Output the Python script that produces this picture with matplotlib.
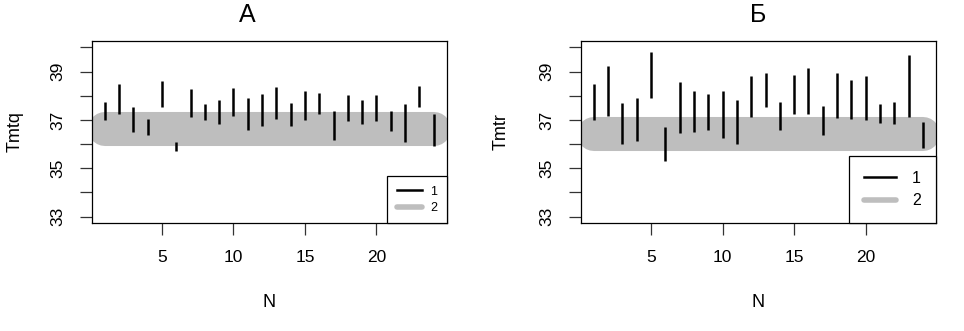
import numpy as np
import matplotlib
matplotlib.use('Agg')
import matplotlib.pyplot as plt
from matplotlib.lines import Line2D

plt.rcParams['font.family'] = ['Liberation Sans', 'DejaVu Sans']

# measurement number
N = list(range(1, 25))

# panel A : Tmtq ranges (low / high) for each N
tmtq_low = [37.00, 37.23, 36.52, 36.38, 37.52, 35.72, 37.14, 37.00, 36.83, 37.18, 36.60, 36.74,
            37.04, 36.74, 37.00, 37.23, 36.17, 36.94, 36.83, 36.94, 36.55, 36.08, 37.54, 35.94]
tmtq_high = [37.73, 38.47, 37.55, 37.03, 38.63, 36.10, 38.27, 37.65, 37.84, 38.34, 37.90, 38.09,
             38.38, 37.69, 38.18, 38.13, 37.36, 38.03, 37.81, 38.03, 37.36, 37.65, 38.40, 37.25]

# panel B : Tmtr ranges
tmtr_low = [37.00, 37.18, 36.01, 36.12, 37.91, 35.29, 36.45, 36.52, 36.59, 36.27, 36.01, 37.12,
            37.52, 36.60, 37.23, 37.23, 36.37, 37.10, 37.04, 37.00, 36.86, 36.85, 37.12, 35.84]
tmtr_high = [38.47, 39.25, 37.69, 37.90, 39.80, 36.71, 38.57, 38.20, 38.09, 38.20, 37.81, 38.80,
             38.93, 37.74, 38.85, 39.15, 37.59, 38.93, 38.67, 38.80, 37.65, 37.73, 39.69, 36.93]

# reference level (series 2)
level_a = 36.64
level_b = 36.40

titles = ['А', 'Б']
ylabels = ['Tmtq', 'Tmtr']

fig = plt.figure(figsize=(9.64, 3.31), dpi=100)
ax1 = fig.add_axes([0.0951, 0.3254, 0.3683, 0.5516])
ax2 = fig.add_axes([0.6024, 0.3254, 0.3686, 0.5516])

# ax, low, high, level, legend fontsize, ylabel x, title x, legend spacing, legend pad, text pad
panels = [(ax1, tmtq_low, tmtq_high, level_a, 9, -0.1926, 0.437, 0.35, 0.75, 0.7),
          (ax2, tmtr_low, tmtr_high, level_b, 11.5, -0.199, 0.5, 0.45, 0.95, 1.0)]

for i, (ax, lo, hi, lev, lfs, ylx, tx, lsp, bpad, tpad) in enumerate(panels):
    ax.plot([N[0], N[-1]], [lev, lev], color='#bebebe', lw=24.5, solid_capstyle='round', zorder=1)
    ax.vlines(N, lo, hi, color='black', lw=1.8, zorder=2)
    ax.set_xlim(0.08, 24.92)
    ax.set_ylim(32.72, 40.28)
    ax.set_xticks([5, 10, 15, 20])
    ax.set_yticks(range(33, 41))
    ax.set_yticklabels([str(v) if v % 2 == 1 else '' for v in range(33, 41)])
    ax.tick_params(axis='both', length=8.3, width=0.9, pad=11, labelsize=12.5, color='#333333')
    ax.tick_params(axis='y', labelrotation=90)
    for lab in ax.get_yticklabels():
        lab.set_va('center')
    for s in ax.spines.values():
        s.set_linewidth(0.9)
    ax.set_xlabel('N', fontsize=13)
    ax.set_ylabel(ylabels[i], fontsize=13)
    ax.xaxis.set_label_coords(0.5, -0.385)
    ax.yaxis.set_label_coords(ylx, 0.5)
    ax.text(tx, 1.075, titles[i], transform=ax.transAxes, ha='center', va='bottom', fontsize=18)
    handles = [Line2D([0], [0], color='black', lw=1.8),
               Line2D([0], [0], color='#bebebe', lw=4, solid_capstyle='round')]
    leg = ax.legend(handles, ['1', '2'], loc='lower right', fontsize=lfs, borderaxespad=0,
                    fancybox=False, edgecolor='black', framealpha=1, handlelength=2.0,
                    handletextpad=tpad, labelspacing=lsp, borderpad=bpad)
    leg.get_frame().set_linewidth(0.9)

fig.savefig('out.png', dpi=100)
